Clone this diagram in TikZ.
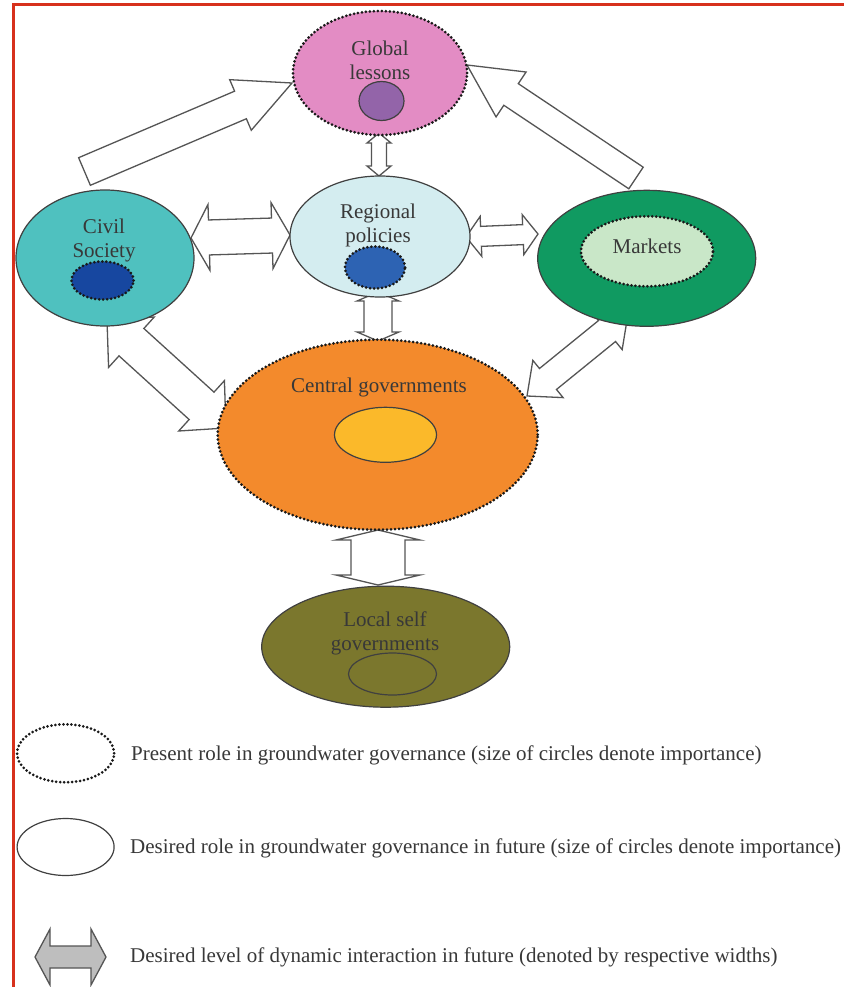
\documentclass[tikz,border=0pt]{standalone}
\usepackage{fontspec}
\setmainfont{Liberation Serif}
\usetikzlibrary{shapes.geometric,calc,backgrounds}
\definecolor{cglob}{HTML}{E38CC4}
\definecolor{cglobin}{HTML}{9364A9}
\definecolor{ccivil}{HTML}{4FC1BF}
\definecolor{ccivin}{HTML}{1747A0}
\definecolor{creg}{HTML}{D4EDF0}
\definecolor{cregin}{HTML}{2D63B3}
\definecolor{cmark}{HTML}{109A61}
\definecolor{cmarkin}{HTML}{C9E7C8}
\definecolor{ccent}{HTML}{F38A2C}
\definecolor{ccentin}{HTML}{FBB92A}
\definecolor{cloc}{HTML}{7B772D}
\definecolor{txt}{HTML}{383838}
\definecolor{cframe}{HTML}{D7311C}
\definecolor{carrow}{HTML}{555555}
\definecolor{cgrey}{HTML}{BEBEBE}
% single-headed block arrow: [style] tail, tip, half shaft, half head, head length
\newcommand\oneheadarrow[6][]{%
  \draw[blk,#1] ($(#2)!#4!90:(#3)$) -- ($(#3)!#6!(#2)!#4!-90:(#2)$) -- ($(#3)!#6!(#2)!#5!-90:(#2)$) -- (#3)
    -- ($(#3)!#6!(#2)!#5!90:(#2)$) -- ($(#3)!#6!(#2)!#4!90:(#2)$) -- ($(#2)!#4!-90:(#3)$) -- cycle;}
% double-headed block arrow
\newcommand\twoheadarrow[6][]{%
  \draw[blk,#1] (#2) -- ($(#2)!#6!(#3)!#5!90:(#3)$) -- ($(#2)!#6!(#3)!#4!90:(#3)$)
    -- ($(#3)!#6!(#2)!#4!-90:(#2)$) -- ($(#3)!#6!(#2)!#5!-90:(#2)$) -- (#3)
    -- ($(#3)!#6!(#2)!#5!90:(#2)$) -- ($(#3)!#6!(#2)!#4!90:(#2)$)
    -- ($(#2)!#6!(#3)!#4!-90:(#3)$) -- ($(#2)!#6!(#3)!#5!-90:(#3)$) -- cycle;}
\tikzset{
  actor/.style={ellipse, inner sep=0pt, outer sep=0pt},
  present/.style={draw=black!90, line width=3pt, line cap=round, dash pattern=on 0pt off 4pt},
  desired/.style={draw=black!75, line width=1.2pt},
  lbl/.style={font=\fontsize{21}{24}\selectfont, text=txt, align=center, inner sep=0pt},
  legtxt/.style={font=\fontsize{21}{24}\selectfont, text=txt, anchor=west, inner sep=0pt},
  blk/.style={draw=carrow, line width=1.3pt, fill=white, line join=miter},
  greyarrow/.style={fill=cgrey}
}
\begin{document}
\begin{tikzpicture}[x=1pt,y=-1pt]
\useasboundingbox (0,0) rectangle (843,987);

% actors
\node[actor, present, fill=cglob, minimum width=174pt, minimum height=124pt] (glob) at (380,73) {};
\node[actor, desired, fill=cglobin, minimum width=45pt, minimum height=39pt] (globin) at (381.5,101) {};
\node[lbl] (globt) at (380,60) {Global\\lessons};

\node[actor, desired, fill=ccivil, minimum width=178pt, minimum height=136pt] (civ) at (105,258) {};
\node[actor, present, fill=ccivin, minimum width=62pt, minimum height=38pt] (civin) at (102.5,280.5) {};
\node[lbl] (civt) at (104,240) {Civil\\Society};

\node[actor, desired, fill=creg, minimum width=180pt, minimum height=121pt] (reg) at (380,236.5) {};
\node[actor, present, fill=cregin, minimum width=60pt, minimum height=42pt] (regin) at (375,267.5) {};
\node[lbl] (regt) at (378,225) {Regional\\policies};

\node[actor, desired, fill=cmark, minimum width=218pt, minimum height=136pt] (mark) at (646.7,258.3) {};
\node[actor, present, fill=cmarkin, minimum width=132pt, minimum height=70pt] (markin) at (647,251.3) {};
\node[lbl] (markt) at (647,246) {Markets};

\node[actor, present, fill=ccent, minimum width=320pt, minimum height=190pt] (cent) at (377.7,434.7) {};
\node[actor, desired, fill=ccentin, minimum width=102pt, minimum height=55pt] (centin) at (385.5,434.8) {};
\node[lbl] (centt) at (379,387) {Central governments};

\node[actor, desired, fill=cloc, minimum width=248pt, minimum height=121pt] (loc) at (385.7,646.7) {};
\node[actor, desired, minimum width=88pt, minimum height=42pt] (locin) at (392.5,674) {};
\node[lbl] (loct) at (385,633) {Local self\\governments};

% connector end points
\coordinate (civ-gl) at (84.5,171.5);
\coordinate (gl-civ) at (292,83);
\coordinate (mk-gl) at (636,178);
\coordinate (gl-mk) at (467,65);
\coordinate (gl-rg) at (379,133);
\coordinate (rg-gl) at (379,176);
\coordinate (civ-rg) at (191,238);
\coordinate (rg-civ) at (290,235);
\coordinate (rg-mk) at (466,237);
\coordinate (mk-rg) at (538,234);
\coordinate (rg-ce) at (378,292);
\coordinate (ce-rg) at (378,341);
\coordinate (civ-ce) at (107,320);
\coordinate (ce-civ) at (226,428);
\coordinate (mk-ce) at (628,314);
\coordinate (ce-mk) at (527,396);
\coordinate (ce-lo) at (378,530);
\coordinate (lo-ce) at (378,585);

\begin{pgfonlayer}{background}
\fill[white] (0,0) rectangle (843,987);
\oneheadarrow{civ-gl}{gl-civ}{15pt}{27.5pt}{56pt}
\oneheadarrow{mk-gl}{gl-mk}{13pt}{27pt}{53pt}
\twoheadarrow{gl-rg}{rg-gl}{7.5pt}{12pt}{10pt}
\twoheadarrow{civ-rg}{rg-civ}{17.5pt}{33pt}{18pt}
\twoheadarrow{rg-mk}{mk-rg}{10pt}{20pt}{15pt}
\twoheadarrow{rg-ce}{ce-rg}{14pt}{21pt}{9pt}
\twoheadarrow{civ-ce}{ce-civ}{18.5pt}{34pt}{33pt}
\twoheadarrow{mk-ce}{ce-mk}{13.5pt}{24pt}{27pt}
\twoheadarrow{ce-lo}{lo-ce}{27pt}{42pt}{10pt}
\end{pgfonlayer}

% frame
\draw[cframe, line width=3pt] (13,990) -- (13,5) -- (846,5);

% legend
\node[actor, present, minimum width=97pt, minimum height=58pt] (legp) at (65.6,753.3) {};
\node[legtxt] (legpt) at (131,755) {Present role in groundwater governance (size of circles denote importance)};
\node[actor, desired, minimum width=97pt, minimum height=57pt] (legd) at (65.6,847) {};
\node[legtxt] (legdt) at (130,848) {Desired role in groundwater governance in future (size of circles denote importance)};
\coordinate (lega1) at (35,957);
\coordinate (lega2) at (106,957);
\twoheadarrow[greyarrow]{lega1}{lega2}{11pt}{28pt}{15pt}
\node[legtxt] (legat) at (130,957) {Desired level of dynamic interaction in future (denoted by respective widths)};
\end{tikzpicture}
\end{document}
